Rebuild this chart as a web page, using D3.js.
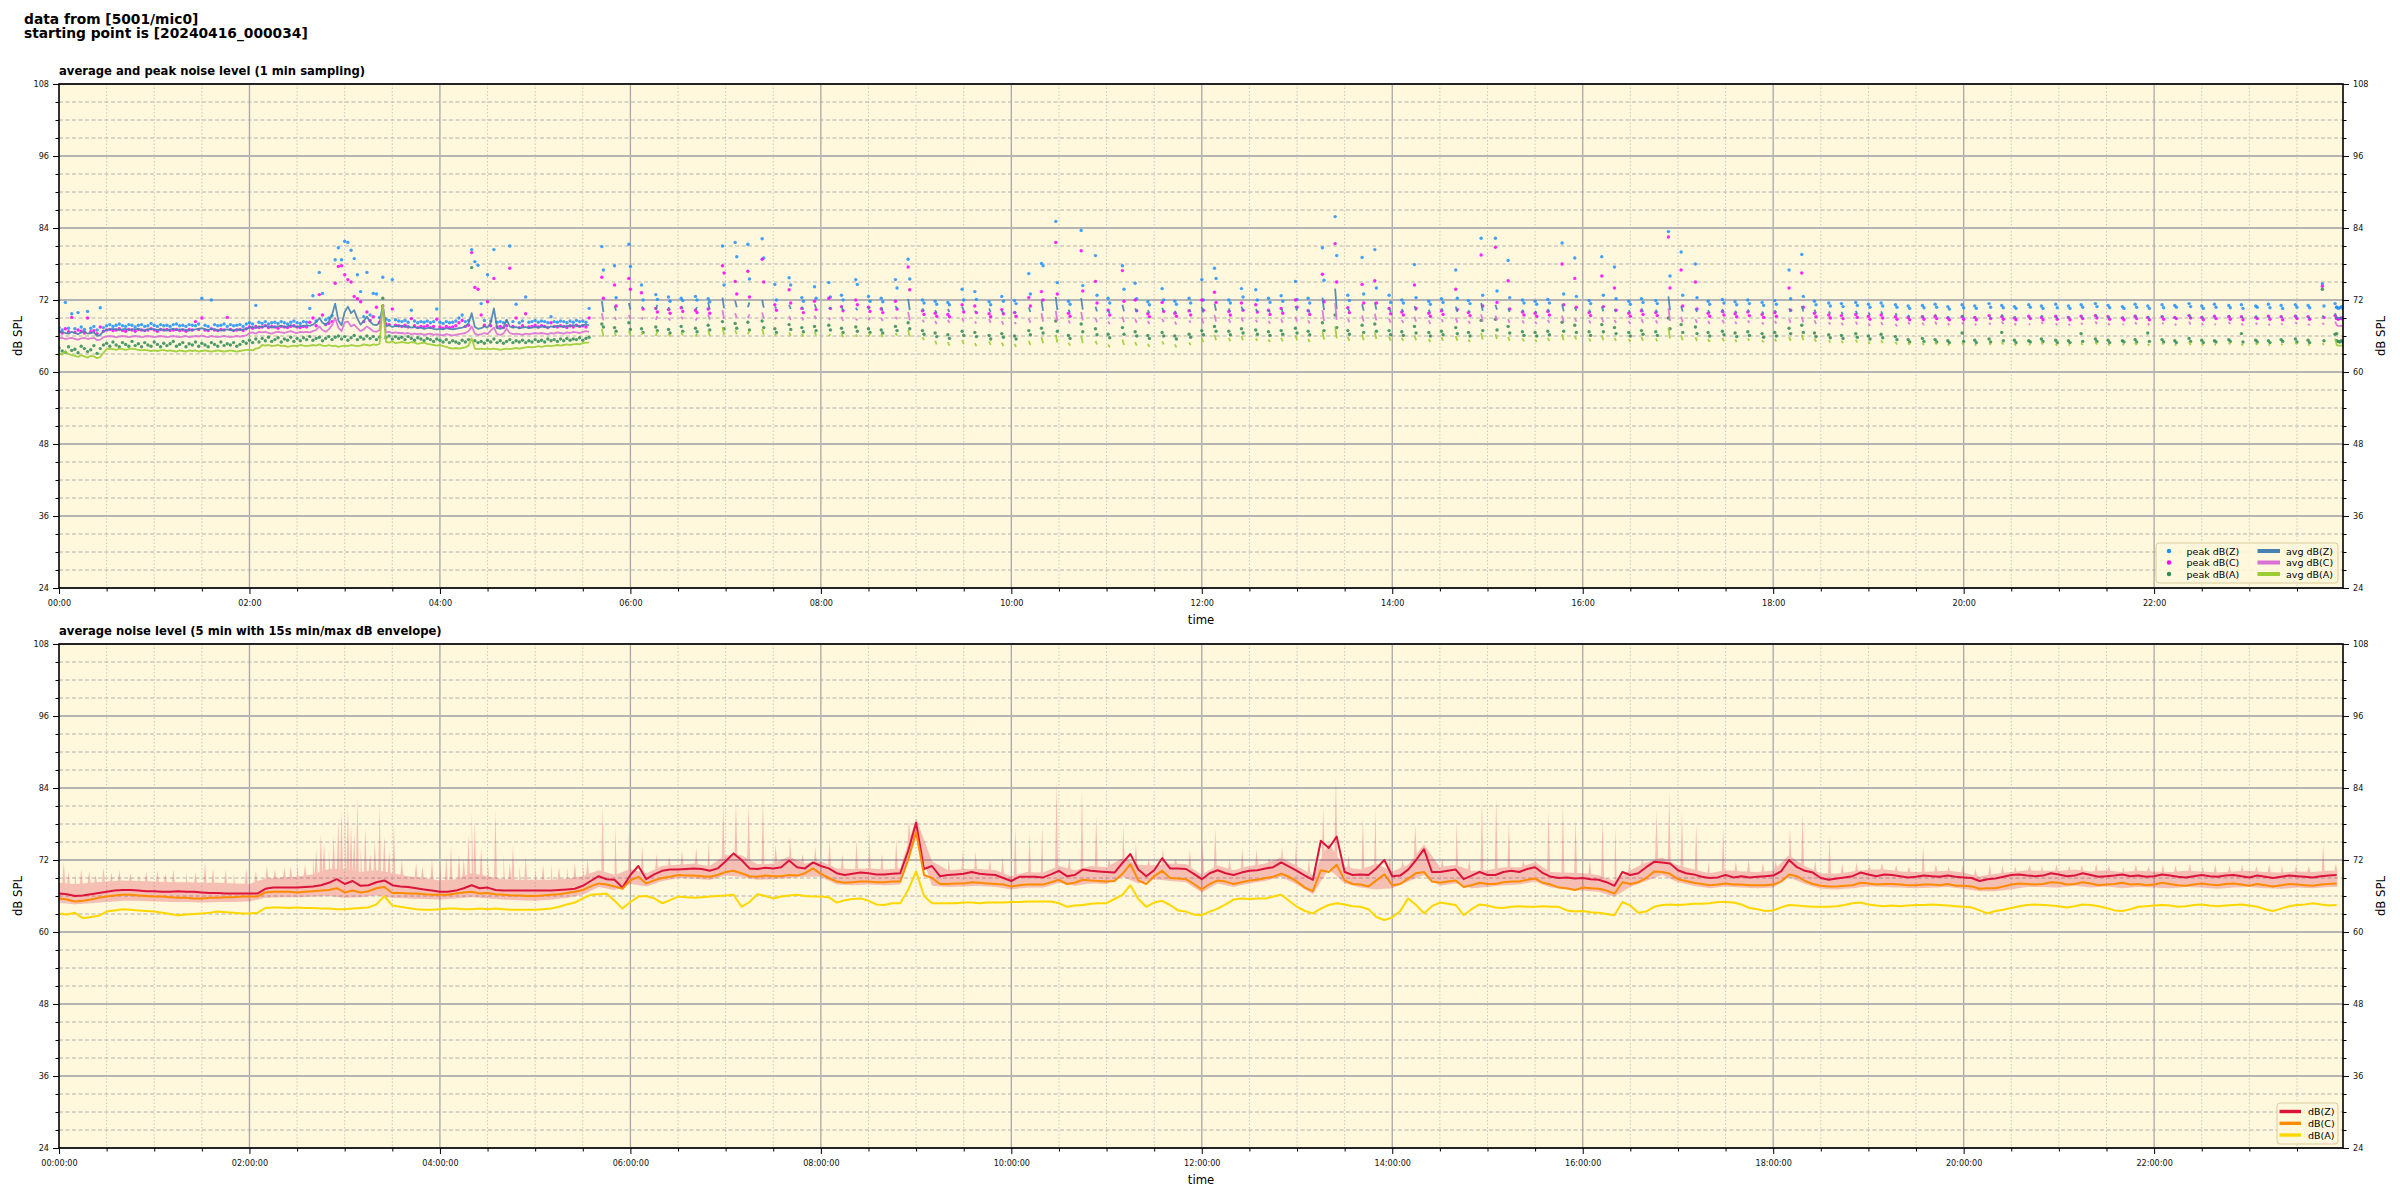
<!DOCTYPE html>
<html><head><meta charset="utf-8">
<script src="https://cdn.jsdelivr.net/npm/d3@7/dist/d3.min.js"></script>
<style>html,body{margin:0;padding:0;background:#fff;}</style>
</head><body>
<svg id="chart" width="2400" height="1200" xmlns="http://www.w3.org/2000/svg"></svg>
<script>
// ---------------- DATA ----------------
const titleLines = ["data from [5001/mic0]", "starting point is [20240416_000034]"];
const topTitle = "average and peak noise level (1 min sampling)";
const botTitle = "average noise level (5 min with 15s min/max dB envelope)";
const yTickValues = [24, 36, 48, 60, 72, 84, 96, 108];
const topLegendLabels = ["peak dB(Z)", "peak dB(C)", "peak dB(A)", "avg dB(Z)", "avg dB(C)", "avg dB(A)"];
const botLegendLabels = ["dB(Z)", "dB(C)", "dB(A)"];

// top chart, continuous part: one value every 2 minutes from 00:00 to 05:34
const seg0Z = [66.6,66.7,66.5,66.4,66.7,66.5,66.3,66.6,66.8,66.4,66.5,66.6,66.0,66.2,66.8,
67.0,67.1,67.2,67.1,67.0,67.1,67.2,67.0,67.1,67.1,67.2,67.0,66.9,67.1,67.2,67.1,67.0,67.1,67.0,66.9,67.1,67.2,67.0,67.1,67.1,67.0,66.9,67.0,67.1,67.2,67.3,67.1,67.0,67.2,67.1,67.0,66.9,67.0,67.1,67.0,66.9,67.1,67.0,67.1,67.2,
67.4,67.5,67.3,67.6,67.5,67.7,67.6,67.4,67.5,67.6,67.7,67.5,67.6,67.8,67.6,67.5,67.7,67.6,67.8,67.7,67.9,68.3,
69.0,68.2,67.9,68.4,69.5,71.4,68.6,67.8,70.0,70.9,69.8,70.3,68.9,67.9,68.5,69.2,68.4,67.9,67.8,68.2,71.2,67.6,67.8,67.5,67.7,67.6,
67.7,67.5,67.6,67.4,67.5,67.3,67.4,67.2,67.3,67.4,67.2,67.1,67.2,67.1,67.3,67.2,67.1,67.2,67.3,67.4,
67.6,68.1,69.8,67.5,67.2,67.3,67.6,67.4,68.2,70.6,67.3,67.2,67.4,68.7,67.6,67.4,67.5,67.3,67.4,67.5,
67.3,67.4,67.5,67.4,67.6,67.5,67.4,67.6,67.5,67.7,67.6,67.5,67.7,67.6,67.8,67.7,67.6,67.8,67.9,67.8];
const seg0C = [65.6,65.7,65.5,65.6,65.7,65.5,65.4,65.6,65.7,65.5,65.6,65.7,65.3,65.4,65.8,
65.9,66.0,65.9,65.8,65.9,66.0,65.9,65.8,65.9,66.0,65.9,65.8,65.9,66.0,65.9,65.8,65.9,66.0,65.9,65.8,65.9,66.0,65.9,65.8,65.9,66.0,65.8,65.9,66.0,65.9,66.1,65.9,65.8,66.0,65.9,65.8,65.9,66.0,65.9,65.8,65.9,66.0,65.9,66.0,66.1,
66.5,66.6,66.4,66.7,66.6,66.7,66.5,66.4,66.6,66.7,66.6,66.5,66.7,66.8,66.6,66.5,66.7,66.6,66.7,66.6,66.8,67.0,
67.6,67.0,66.7,67.1,67.8,69.0,67.4,66.8,68.3,68.4,67.6,67.9,67.3,66.8,67.1,67.6,67.2,66.8,66.7,67.0,71.0,66.6,66.7,66.5,66.6,66.5,
66.5,66.4,66.5,66.3,66.4,66.3,66.4,66.2,66.3,66.4,66.2,66.3,66.2,66.1,66.3,66.2,66.1,66.2,66.3,66.4,
66.5,66.8,67.6,66.4,66.2,66.3,66.5,66.3,66.9,67.4,66.3,66.2,66.4,67.2,66.5,66.3,66.4,66.3,66.2,66.4,
66.3,66.4,66.5,66.4,66.5,66.4,66.3,66.5,66.4,66.6,66.5,66.4,66.6,66.5,66.7,66.6,66.5,66.7,66.8,66.7];
const seg0A = [63.1,62.9,63.4,63.0,62.8,62.7,62.5,62.8,62.6,62.4,62.7,62.6,62.3,62.5,63.2,
63.8,63.9,63.8,63.7,63.9,63.8,63.7,63.8,63.9,63.8,63.7,63.6,63.7,63.6,63.5,63.6,63.5,63.6,63.7,63.5,63.6,63.5,63.4,63.6,63.5,63.4,63.6,63.5,63.6,63.4,63.5,63.6,63.5,63.4,63.5,63.6,63.5,63.4,63.5,63.6,63.5,63.4,63.5,63.6,63.7,
63.7,63.6,63.9,64.0,64.5,64.4,64.5,64.3,64.4,64.5,64.3,64.4,64.2,64.3,64.4,64.3,64.5,64.4,64.3,64.4,64.5,64.4,
64.6,64.4,64.3,64.5,64.3,64.4,64.2,64.3,64.4,64.3,64.5,64.4,64.3,64.4,64.6,64.5,64.4,64.6,64.5,64.7,71.2,65.0,64.9,65.1,64.8,64.9,
65.0,64.9,64.8,65.0,64.9,64.7,64.8,64.9,64.7,64.6,64.5,64.4,64.5,64.3,64.2,64.0,63.9,64.0,63.9,64.0,
64.1,64.4,65.6,63.9,63.8,63.9,63.8,63.9,63.8,63.9,63.8,63.7,63.8,63.9,63.8,63.9,64.0,63.9,64.0,64.1,
64.2,64.1,64.2,64.3,64.2,64.3,64.4,64.3,64.4,64.5,64.4,64.5,64.6,64.5,64.6,64.7,64.6,64.8,64.9,64.9];
const seg0PZ = [67.4,67.0,71.6,67.3,69.7,67.2,69.9,67.5,67.1,70.1,67.3,67.6,67.0,70.7,67.4,
67.7,67.9,67.6,67.8,68.0,67.7,67.6,67.9,67.8,67.5,67.8,67.9,67.6,67.7,68.1,67.8,67.6,67.9,67.7,67.8,67.6,67.9,68.0,67.7,67.8,67.6,67.9,67.8,67.7,68.0,72.3,67.8,67.6,72.0,67.9,67.7,67.8,68.0,67.6,67.9,67.7,67.8,67.9,67.6,68.0,
68.2,68.0,71.1,68.3,68.1,68.4,68.0,68.2,68.3,68.1,68.4,68.2,68.0,68.3,68.5,68.2,68.1,68.4,68.3,70.6,72.7,68.5,
76.6,73.1,68.7,69.0,69.4,78.7,80.7,78.7,81.8,81.6,80.3,78.9,76.2,73.4,69.2,76.6,69.5,73.1,73.0,69.1,75.8,68.8,68.6,75.4,68.7,68.5,
68.4,68.6,68.3,70.3,68.5,68.2,68.4,68.3,68.5,68.2,68.4,70.5,68.3,68.1,68.4,68.2,68.3,68.5,69.0,69.5,
68.4,68.6,80.4,78.4,77.8,71.4,68.6,76.2,68.5,80.4,68.3,68.4,68.2,68.5,81.0,68.4,71.3,68.2,68.5,72.5,
68.3,68.4,68.6,68.3,68.5,68.4,68.2,69.2,68.4,68.3,68.5,68.4,68.2,68.5,68.3,68.6,68.4,68.5,68.3,70.6];
const seg0PC = [66.8,66.5,67.2,66.7,69.1,66.6,67.0,66.8,66.5,69.0,66.7,66.9,66.4,67.5,66.8,
67.0,67.1,66.9,67.0,67.2,66.9,66.8,67.1,67.0,66.8,67.1,67.0,66.9,67.0,67.2,67.0,66.8,67.1,67.0,67.1,66.9,67.0,67.1,66.9,67.0,66.8,67.1,67.0,68.4,67.1,69.0,67.0,66.9,67.2,67.0,66.9,67.1,67.0,69.1,67.1,66.9,67.0,67.1,66.9,67.2,
67.5,67.3,67.6,67.4,67.5,67.7,67.4,67.6,67.5,67.3,67.6,67.5,67.4,67.6,67.7,67.5,67.4,67.6,67.5,68.3,69.0,67.7,
72.9,69.5,67.9,68.1,68.4,74.8,77.6,77.7,76.2,75.4,75.0,72.6,72.2,71.7,68.4,70.0,68.6,69.2,70.8,68.3,71.0,68.0,67.9,70.5,67.8,67.7,
67.6,67.8,67.5,68.9,67.7,67.4,67.6,67.5,67.7,67.4,67.6,68.8,67.5,67.3,67.6,67.4,67.5,67.7,68.2,68.6,
67.6,67.8,79.9,74.1,73.8,69.5,67.8,71.7,67.7,75.6,67.5,67.6,67.4,67.7,77.3,67.6,69.0,67.4,67.7,69.7,
67.5,67.6,67.8,67.5,67.7,67.6,67.4,68.2,67.6,67.5,67.7,67.6,67.4,67.7,67.5,67.8,67.6,67.7,67.5,69.0];
const seg0PA = [64.0,63.5,63.3,64.2,63.6,63.8,63.2,64.3,63.9,63.4,63.7,64.4,63.1,63.9,64.5,
64.8,64.3,65.0,64.5,64.2,64.9,64.6,64.3,65.1,64.4,64.7,64.2,64.9,64.5,64.3,65.0,64.6,64.2,64.8,64.4,64.7,65.1,64.3,64.6,64.9,64.2,64.7,64.5,65.0,64.3,64.8,64.5,64.2,64.9,64.6,64.3,65.0,64.4,64.7,64.5,64.9,64.3,64.6,65.1,64.8,
65.3,64.9,65.5,65.0,65.6,65.2,65.8,65.1,65.4,65.7,65.0,65.5,65.3,65.8,65.1,65.6,65.2,65.7,65.4,65.9,65.3,65.6,
65.8,65.2,65.6,65.9,65.4,65.8,66.0,65.5,65.9,65.3,65.7,66.1,65.4,65.8,65.5,66.0,65.6,65.9,65.4,65.8,72.3,65.7,66.0,65.5,65.9,65.6,
65.8,65.4,65.9,65.6,65.3,65.7,65.5,65.2,65.6,65.4,65.1,65.5,65.3,65.0,65.4,64.9,65.2,65.0,64.8,65.3,
65.0,65.4,77.4,65.2,64.9,65.1,64.8,65.3,65.0,65.5,64.9,65.2,64.8,65.1,65.4,64.9,65.2,65.0,65.3,64.9,
65.2,65.0,65.4,65.1,65.3,65.0,65.5,65.2,65.4,65.1,65.5,65.2,65.6,65.3,65.5,65.4,65.7,65.3,65.6,65.8];

// top chart, short recordings (2 samples each) from 05:42 on
const burstMinutes = [342,350,359,367,376,384,392,401,409,418,
426,434,443,451,460,468,476,485,493,502,
510,518,527,535,544,552,560,569,577,586,
594,602,611,619,628,636,644,653,661,670,
678,686,695,703,712,720,728,737,745,754,
762,770,779,787,796,804,812,821,829,838,
846,854,863,871,880,888,896,905,913,922,
930,938,947,955,964,972,980,989,997,1006,
1014,1022,1031,1039,1048,1056,1064,1073,1081,1090,
1098,1106,1115,1123,1132,1140,1148,1157,1165,1174,
1182,1190,1199,1207,1216,1224,1232,1241,1249,1258,
1266,1274,1283,1291,1300,1308,1316,1325,1333,1342,
1350,1358,1367,1375,1384,1392,1400,1409,1417,1426,
1434];
const burstZ = [[71.8,70.0],[71.0,70.2],[71.5,70.4],[70.6,70.9],[70.4,71.2],[70.8,70.3],[71.0,70.5],[70.3,70.8],[71.6,70.4],[72.4,70.6],
[71.9,70.8],[70.8,71.6],[72.0,70.7],[70.6,70.9],[71.2,70.5],[70.9,70.4],[71.3,70.6],[70.5,70.8],[71.0,70.2],[70.7,70.3],
[70.4,70.9],[70.8,70.2],[71.0,70.6],[72.2,70.3],[70.6,70.1],[70.3,69.8],[70.5,70.0],[70.9,70.2],[70.2,69.9],[70.6,70.0],
[70.3,69.7],[70.1,69.8],[70.8,70.0],[71.9,70.2],[72.5,70.3],[70.4,69.9],[72.3,70.4],[70.9,70.1],[70.2,69.8],[71.2,70.1],
[70.6,70.0],[70.3,69.8],[70.7,70.1],[70.2,69.7],[70.4,70.0],[70.8,69.9],[71.4,70.2],[70.6,70.0],[70.9,70.2],[70.5,70.1],
[70.3,69.9],[70.6,70.0],[71.0,70.2],[70.4,69.9],[72.4,70.3],[73.9,70.5],[70.6,70.1],[71.3,70.2],[71.6,70.4],[70.7,70.0],
[70.5,70.0],[71.0,70.2],[70.4,69.8],[70.6,70.1],[70.9,70.0],[70.3,69.9],[71.5,70.2],[71.2,70.4],[70.6,70.0],[70.4,69.9],
[70.2,69.8],[70.5,70.0],[71.3,70.1],[70.8,70.2],[70.4,69.9],[70.9,70.1],[70.5,70.0],[70.3,69.8],[70.6,70.0],[70.4,69.9],
[72.6,70.3],[71.0,70.1],[70.6,70.0],[70.3,69.8],[70.5,69.9],[70.2,69.8],[70.4,70.0],[70.1,69.7],[70.3,69.9],[70.6,70.0],
[71.0,70.1],[70.4,69.8],[70.1,69.7],[70.0,69.6],[70.2,69.7],[69.9,69.5],[70.1,69.6],[69.8,69.4],[69.5,69.1],[69.4,69.0],
[69.6,69.1],[69.3,68.9],[69.5,69.0],[69.2,68.9],[69.4,69.0],[69.6,69.1],[69.3,68.9],[69.2,69.0],[69.5,69.1],[69.3,68.9],
[69.2,68.9],[69.4,69.0],[69.6,69.1],[69.3,68.9],[69.2,69.0],[69.5,69.0],[69.3,68.9],[69.4,69.1],[69.2,68.9],[69.6,69.0],
[69.3,68.9],[69.2,69.0],[69.5,69.1],[69.3,68.9],[69.4,69.0],[69.2,68.9],[69.3,69.0],[69.5,69.1],[69.2,68.9],[69.4,69.0],[69.8,69.0]];
const burstC = [[69.8,68.6],[69.2,68.7],[69.5,68.8],[68.8,69.1],[68.7,69.3],[69.0,68.6],[69.2,68.8],[68.6,69.0],[69.6,68.7],[70.3,68.9],
[69.8,69.0],[69.0,69.6],[69.9,68.9],[68.8,69.1],[69.3,68.7],[69.1,68.6],[69.4,68.8],[68.7,69.0],[69.2,68.5],[68.9,68.6],
[68.6,69.1],[69.0,68.5],[69.2,68.8],[70.0,68.6],[68.7,68.3],[68.5,68.0],[68.7,68.2],[69.0,68.4],[68.4,68.1],[68.8,68.2],
[68.5,67.9],[68.3,68.0],[68.9,68.2],[69.8,68.4],[70.2,68.5],[68.6,68.1],[70.0,68.6],[69.0,68.3],[68.4,68.0],[69.2,68.3],
[68.8,68.2],[68.5,68.0],[68.9,68.3],[68.4,67.9],[68.6,68.2],[69.0,68.1],[69.5,68.4],[68.8,68.2],[69.1,68.4],[68.7,68.3],
[68.5,68.1],[68.8,68.2],[69.2,68.4],[68.6,68.1],[70.3,68.5],[71.5,68.7],[68.8,68.3],[69.4,68.4],[69.7,68.6],[68.9,68.2],
[68.7,68.2],[69.2,68.4],[68.6,68.0],[68.8,68.3],[69.1,68.2],[68.5,68.1],[69.6,68.4],[69.4,68.6],[68.8,68.2],[68.6,68.1],
[68.4,68.0],[68.7,68.2],[69.4,68.3],[69.0,68.4],[68.6,68.1],[69.1,68.3],[68.7,68.2],[68.5,68.0],[68.8,68.2],[68.6,68.1],
[70.6,68.5],[69.2,68.3],[68.8,68.2],[68.5,68.0],[68.7,68.1],[68.4,68.0],[68.6,68.2],[68.3,67.9],[68.5,68.1],[68.8,68.2],
[69.2,68.3],[68.6,68.0],[68.3,67.9],[68.2,67.8],[68.4,67.9],[68.1,67.7],[68.3,67.8],[68.0,67.6],[68.3,67.9],[68.2,67.8],
[68.4,67.9],[68.1,67.8],[68.3,67.9],[68.0,67.8],[68.2,67.9],[68.4,68.0],[68.1,67.8],[68.0,67.9],[68.3,68.0],[68.1,67.8],
[68.0,67.8],[68.2,67.9],[68.4,68.0],[68.1,67.8],[68.0,67.9],[68.3,67.9],[68.1,67.8],[68.2,68.0],[68.0,67.8],[68.4,67.9],
[68.1,67.8],[68.0,67.9],[68.3,68.0],[68.1,67.8],[68.2,67.9],[68.0,67.8],[68.1,67.9],[68.3,68.0],[68.0,67.8],[68.2,67.9],[68.4,67.9]];
const burstA = [[67.2,65.9],[66.6,66.0],[66.9,66.1],[66.2,66.6],[66.0,66.8],[66.4,65.9],[66.6,66.1],[65.9,66.4],[67.0,66.0],[67.5,66.2],
[67.0,66.3],[66.3,66.9],[67.2,66.2],[66.1,66.4],[66.6,66.0],[66.4,65.9],[66.7,66.1],[66.0,66.3],[66.5,65.8],[66.2,65.9],
[65.9,66.4],[66.3,65.8],[66.5,66.1],[67.0,65.9],[65.8,65.3],[65.2,64.6],[65.0,64.4],[65.3,64.7],[64.8,64.3],[65.1,64.5],
[64.9,64.3],[64.7,64.2],[65.2,64.5],[65.8,64.8],[66.2,64.9],[64.9,64.4],[66.0,64.8],[65.2,64.6],[64.6,64.1],[65.4,64.5],
[65.0,64.4],[64.7,64.2],[65.1,64.6],[64.6,64.1],[64.9,64.5],[65.6,65.0],[66.2,65.3],[65.7,65.1],[66.0,65.3],[65.6,65.2],
[65.4,65.0],[65.7,65.1],[66.1,65.3],[65.5,65.0],[66.8,65.4],[67.6,65.6],[65.8,65.2],[66.3,65.3],[66.6,65.5],[65.9,65.2],
[65.7,65.2],[66.1,65.3],[65.5,65.0],[65.8,65.2],[66.0,65.2],[65.4,65.0],[66.5,65.4],[66.3,65.5],[65.8,65.2],[65.6,65.1],
[65.4,65.0],[65.7,65.2],[66.3,65.3],[66.0,65.4],[65.6,65.1],[66.1,65.3],[65.7,65.2],[65.5,65.0],[65.8,65.2],[65.6,65.1],
[67.4,65.6],[66.1,65.3],[65.8,65.2],[65.5,65.0],[65.7,65.1],[65.4,65.0],[65.6,65.2],[65.3,64.9],[65.5,65.1],[65.8,65.2],
[66.2,65.3],[65.6,65.0],[65.3,64.9],[65.2,64.8],[65.4,64.9],[65.1,64.7],[65.3,64.8],[65.0,64.6],[64.9,64.5],[64.8,64.5],
[65.0,64.6],[64.7,64.4],[64.9,64.5],[64.6,64.4],[64.8,64.5],[65.0,64.6],[64.7,64.4],[64.6,64.5],[64.9,64.6],[64.7,64.4],
[64.6,64.4],[64.8,64.5],[65.0,64.6],[64.7,64.4],[64.6,64.5],[64.9,64.5],[64.7,64.4],[64.8,64.6],[64.6,64.4],[65.0,64.5],
[64.7,64.4],[64.6,64.5],[64.9,64.6],[64.7,64.4],[64.8,64.5],[64.6,64.4],[64.7,64.5],[64.9,64.6],[64.6,64.4],[64.8,64.5],[65.6,64.6]];
const burstPZ = [[80.9,77.0],[77.7,72.4],[81.3,77.6],[74.5,72.0],[72.9,72.1],[72.5,71.8],[72.3,71.9],[72.6,72.0],[72.2,71.7],[81.0,74.5],
[81.6,79.2],[81.3,75.5],[82.2,79.0],[74.6,72.0],[75.7,74.5],[72.4,71.8],[74.2,72.3],[74.9,72.5],[72.8,72.0],[75.4,74.6],
[72.6,71.8],[72.3,71.7],[75.4,74.0],[78.8,75.5],[72.0,71.5],[71.8,71.3],[71.6,71.2],[73.8,72.0],[73.4,72.1],[71.7,71.2],
[72.6,71.8],[71.9,71.4],[76.4,73.0],[78.1,77.7],[85.1,74.9],[71.8,71.3],[83.6,74.4],[79.4,72.8],[72.3,71.5],[77.7,73.8],
[74.8,72.2],[71.7,71.2],[73.9,72.0],[71.8,71.3],[72.3,71.5],[75.4,72.0],[77.3,75.6],[72.0,71.5],[73.9,72.5],[73.7,72.0],
[72.3,71.6],[72.7,71.8],[75.1,72.1],[72.3,71.5],[80.7,75.3],[85.9,79.4],[72.8,71.9],[79.1,73.0],[80.4,74.0],[72.8,71.6],
[72.0,71.5],[77.9,72.4],[71.8,71.3],[72.2,71.6],[77.0,72.3],[71.9,71.4],[82.3,72.8],[82.3,73.5],[78.6,72.4],[72.0,71.5],
[71.8,71.3],[72.1,71.5],[81.5,73.0],[79.0,72.6],[71.9,71.4],[79.2,72.8],[77.5,72.2],[71.8,71.3],[72.2,71.6],[71.9,71.4],
[83.4,76.0],[80.0,72.8],[78.0,72.4],[71.8,71.3],[72.1,71.5],[71.7,71.2],[72.0,71.4],[71.6,71.1],[71.9,71.3],[77.0,72.2],
[79.6,72.6],[71.8,71.2],[71.5,71.0],[71.4,70.9],[71.6,71.1],[71.3,70.8],[71.5,71.0],[71.2,70.8],[71.0,70.6],[71.1,70.7],
[71.3,70.8],[70.9,70.5],[71.2,70.7],[71.0,70.6],[71.4,70.8],[71.1,70.7],[70.9,70.6],[71.2,70.8],[71.0,70.6],[71.3,70.7],
[71.0,70.6],[71.2,70.8],[71.4,70.9],[71.1,70.7],[70.9,70.6],[71.3,70.8],[71.0,70.6],[71.2,70.7],[71.1,70.8],[71.4,70.9],
[71.0,70.6],[71.3,70.8],[71.1,70.7],[71.2,70.6],[71.0,70.8],[71.3,70.7],[71.1,70.6],[71.2,70.8],[71.1,70.7],[74.7,71.0],[71.4,70.8]];
const burstPC = [[75.8,72.3],[74.5,71.0],[75.6,73.8],[73.2,70.5],[70.6,70.0],[70.4,69.8],[70.7,70.1],[70.3,69.9],[70.5,69.8],[77.7,76.5],
[75.1,73.0],[76.8,72.5],[78.8,75.0],[71.2,70.3],[73.7,71.5],[70.6,69.9],[71.8,70.4],[72.3,70.6],[70.9,70.2],[72.0,71.2],
[70.8,70.1],[70.5,69.9],[71.8,70.5],[77.5,73.7],[70.2,69.6],[69.8,69.3],[69.6,69.2],[71.2,70.0],[71.0,69.9],[69.7,69.2],
[70.4,69.7],[69.9,69.3],[72.4,71.0],[73.4,72.0],[81.6,73.0],[69.8,69.3],[80.2,73.5],[75.1,71.5],[70.3,69.5],[76.9,71.8],
[72.0,70.2],[69.7,69.2],[71.6,70.1],[69.8,69.3],[70.2,69.5],[72.0,70.3],[73.3,71.6],[70.1,69.5],[71.5,70.3],[71.2,70.0],
[70.3,69.6],[70.6,69.8],[72.0,70.8],[70.2,69.6],[76.3,71.7],[81.4,75.0],[70.7,69.9],[74.6,71.5],[75.2,71.5],[70.6,69.7],
[70.0,69.5],[74.5,70.6],[69.8,69.3],[70.2,69.6],[73.8,70.4],[69.9,69.4],[79.5,71.0],[80.8,71.6],[75.2,70.5],[70.0,69.5],
[69.8,69.3],[70.1,69.5],[78.0,71.2],[75.6,70.8],[69.9,69.4],[76.0,70.9],[74.0,70.3],[69.8,69.3],[70.2,69.6],[69.9,69.4],
[82.5,74.0],[77.0,71.0],[75.0,70.5],[69.8,69.3],[70.1,69.5],[69.7,69.2],[70.0,69.4],[69.6,69.1],[69.9,69.3],[74.0,70.3],
[76.5,70.8],[69.8,69.2],[69.5,69.0],[69.4,68.9],[69.6,69.1],[69.3,68.8],[69.5,69.0],[69.2,68.8],[69.1,68.7],[69.2,68.8],
[69.3,68.9],[69.0,68.7],[69.2,68.8],[69.1,68.7],[69.4,68.9],[69.2,68.8],[69.0,68.7],[69.3,68.9],[69.1,68.7],[69.3,68.8],
[69.1,68.7],[69.3,68.9],[69.4,69.0],[69.2,68.8],[69.0,68.7],[69.3,68.9],[69.1,68.7],[69.2,68.8],[69.1,68.9],[69.4,69.0],
[69.1,68.7],[69.3,68.9],[69.2,68.8],[69.2,68.7],[69.1,68.9],[69.3,68.8],[69.2,68.7],[69.3,68.9],[69.2,68.8],[74.3,69.1],[69.4,68.9]];
const burstPA = [[68.0,67.5],[67.4,66.8],[68.2,67.1],[67.2,66.6],[67.5,66.9],[67.1,66.5],[67.6,66.8],[67.3,66.7],[67.8,67.0],[68.4,67.2],
[68.1,67.3],[68.3,67.0],[68.5,67.4],[67.2,66.6],[67.9,67.1],[67.4,66.7],[67.6,66.9],[67.8,67.0],[67.3,66.6],[67.5,66.8],
[67.2,66.6],[67.0,66.5],[67.6,66.9],[68.2,67.2],[66.9,66.3],[66.5,65.9],[66.2,65.6],[66.8,66.1],[66.6,65.9],[66.1,65.5],
[66.4,65.8],[66.0,65.5],[66.9,66.2],[67.3,66.5],[68.5,66.8],[66.1,65.6],[68.0,66.7],[67.2,66.2],[66.3,65.7],[67.4,66.3],
[66.7,66.0],[66.1,65.6],[66.6,66.0],[66.0,65.5],[66.3,65.8],[66.9,66.2],[67.6,66.8],[66.8,66.2],[67.2,66.5],[67.0,66.3],
[66.7,66.1],[66.9,66.3],[67.3,66.5],[66.8,66.2],[68.2,66.9],[69.5,67.4],[66.9,66.3],[67.8,66.6],[68.0,66.8],[66.9,66.2],
[66.7,66.1],[67.6,66.5],[66.6,66.0],[66.8,66.2],[67.4,66.4],[66.6,66.0],[68.6,66.9],[68.8,67.0],[67.6,66.5],[66.7,66.1],
[66.6,66.0],[66.8,66.2],[68.3,66.8],[67.8,66.6],[66.7,66.1],[67.9,66.7],[67.4,66.4],[66.6,66.0],[66.9,66.3],[66.7,66.1],
[69.0,67.2],[67.9,66.6],[67.5,66.4],[66.6,66.0],[66.8,66.2],[66.5,65.9],[66.7,66.1],[66.4,65.8],[66.6,66.0],[67.3,66.4],
[67.8,66.6],[66.5,65.9],[66.2,65.7],[66.1,65.6],[66.4,65.8],[66.0,65.5],[66.3,65.7],[65.9,65.4],[65.4,65.0],[65.6,65.1],
[65.4,65.0],[65.2,64.9],[66.5,65.1],[65.3,64.9],[65.5,65.0],[66.6,65.2],[65.3,64.9],[65.2,65.0],[65.5,65.1],[65.3,64.9],
[65.2,64.9],[66.4,65.1],[65.5,65.1],[65.3,64.9],[65.2,65.0],[65.4,65.0],[66.5,65.1],[65.4,65.0],[65.2,64.9],[65.6,65.1],
[65.3,64.9],[65.2,65.0],[65.4,65.1],[66.4,65.0],[65.3,65.0],[65.2,64.9],[65.4,65.1],[65.5,65.0],[65.3,64.9],[73.8,65.2],[66.3,65.2]];
// last few minutes of the day (continuous)
const tailMinutes = [1435,1436,1437,1438,1439];
const tailZ = [69.1,69.0,69.0,68.9,69.0];
const tailC = [67.8,67.7,67.7,67.7,67.7];
const tailA = [64.5,64.4,64.4,64.4,64.4];
const tailPZ = [70.8,70.6,70.7,70.9,70.6];
const tailPC = [69.0,68.8,68.9,69.0,68.8];
const tailPA = [66.4,65.1,65.0,65.2,65.0];

// bottom chart: 5-minute averages, one row per hour
const botZ = [
66.4,66.3,66.0,66.1,66.3,66.5,66.7,66.9,67.0,67.0,66.9,66.8,
66.8,66.7,66.7,66.8,66.7,66.7,66.6,66.5,66.5,66.4,66.4,66.4,
66.4,66.4,67.2,67.4,67.4,67.4,67.4,67.5,67.6,67.8,68.2,68.8,
68.0,68.5,67.7,67.8,68.3,68.6,67.8,67.6,67.5,67.3,67.1,66.9,
66.7,66.7,66.9,67.3,67.8,67.3,67.4,67.0,66.9,66.9,66.9,66.9,
66.9,66.9,66.9,67.0,67.1,67.2,67.7,68.5,69.3,68.8,68.7,67.4,
69.5,71.0,68.8,69.6,70.2,70.4,70.4,70.5,70.6,70.5,70.2,70.6,
71.8,73.1,72.0,70.6,70.5,70.7,70.6,70.8,71.9,70.8,70.6,71.6,
71.0,70.6,69.8,69.5,69.7,69.9,69.8,69.6,69.6,69.7,69.8,73.5,
78.2,70.5,71.0,69.3,69.5,69.6,69.7,70.0,69.7,69.6,69.5,69.0,
68.5,69.2,69.2,69.2,69.1,69.6,70.2,69.3,69.5,70.4,70.2,70.1,
70.0,69.9,71.5,73.0,70.4,69.3,70.3,72.3,70.6,70.6,70.5,69.7,
68.8,69.8,70.3,69.8,69.5,69.9,70.2,70.3,70.6,70.8,71.6,70.9,
70.2,69.4,68.7,75.2,74.0,75.9,70.0,69.5,69.6,69.5,70.6,72.0,
69.3,69.4,70.4,72.0,73.8,70.0,70.0,70.2,70.4,68.8,69.4,70.0,
69.5,69.5,70.0,70.2,70.0,70.5,70.8,69.8,69.2,69.0,69.1,68.9,
69.0,68.8,68.7,68.3,67.7,70.0,69.5,69.8,70.8,71.7,71.6,71.4,
70.3,69.8,69.6,69.2,69.0,69.1,69.5,69.1,69.3,69.1,69.2,69.3,
69.4,70.1,72.0,70.8,70.2,69.9,69.0,68.7,68.9,69.1,69.3,69.9,
69.6,69.3,69.6,69.5,69.3,69.1,69.2,69.4,69.3,69.2,69.4,69.2,
69.1,69.0,68.5,68.8,68.9,69.2,69.5,69.6,69.4,69.3,69.4,69.8,
69.6,69.3,69.4,69.8,69.5,69.2,69.3,69.4,69.6,69.3,69.4,69.2,
69.3,69.6,69.4,69.2,69.1,69.3,69.5,69.3,69.2,69.4,69.5,69.3,
69.1,69.4,69.2,69.0,69.2,69.4,69.3,69.2,69.1,69.3,69.4,69.5];
const botC = [
65.6,65.4,65.1,65.2,65.4,65.7,65.9,66.1,66.2,66.2,66.1,66.0,
65.9,65.9,65.8,65.7,65.7,65.6,65.6,65.7,65.7,65.8,65.8,65.9,
65.9,65.9,66.6,66.7,66.7,66.7,66.6,66.7,66.8,66.9,67.0,67.3,
66.6,66.9,66.6,66.8,67.3,67.5,66.5,66.5,66.4,66.4,66.3,66.2,
66.2,66.2,66.4,66.6,66.7,66.4,66.5,66.3,66.2,66.1,66.1,66.0,
66.0,66.1,66.2,66.3,66.5,66.7,67.0,67.6,68.1,67.9,67.6,67.2,
68.6,69.2,68.1,68.6,69.0,69.2,69.5,69.4,69.4,69.3,69.2,69.5,
70.0,70.2,69.8,69.3,69.2,69.4,69.3,69.3,69.5,69.4,69.8,70.6,
69.7,69.0,68.4,68.2,68.3,68.4,68.4,68.3,68.3,68.4,68.4,72.0,
76.7,69.5,69.0,68.0,68.0,68.1,68.1,68.3,68.2,68.1,68.0,67.9,
67.6,67.8,67.9,67.9,67.9,68.3,68.7,68.0,68.2,68.7,68.6,68.5,
68.4,68.5,69.7,71.3,68.6,68.0,69.3,70.2,69.0,68.9,68.8,68.0,
67.1,68.0,68.6,68.4,68.0,68.3,68.6,68.7,69.0,69.2,69.7,69.2,
68.4,67.4,66.8,70.3,70.0,71.2,68.6,68.0,67.9,67.6,68.6,69.6,
67.8,68.0,68.9,69.8,70.0,68.4,68.2,68.4,68.6,67.5,67.8,68.2,
68.0,68.0,68.3,68.4,68.4,68.7,68.9,68.2,67.9,67.4,67.3,67.0,
67.4,67.3,67.2,66.9,66.4,68.3,68.0,68.3,69.0,70.1,70.0,69.7,
68.8,68.5,68.2,68.0,67.8,67.9,68.1,67.9,67.9,67.8,67.8,67.8,
67.9,68.4,69.6,69.3,68.5,68.0,67.7,67.6,67.6,67.7,67.8,68.2,
68.1,67.9,68.0,68.0,67.9,67.8,67.8,67.9,67.9,67.8,68.0,67.7,
67.7,67.6,67.2,67.3,67.3,67.6,67.9,68.1,68.0,67.9,68.0,68.3,
68.2,67.9,68.0,68.3,68.1,67.8,67.9,68.0,68.2,67.9,68.0,67.8,
67.9,68.2,68.0,67.8,67.7,67.9,68.1,67.9,67.8,68.0,68.1,67.9,
67.7,68.0,67.8,67.6,67.8,68.0,67.9,67.8,67.7,67.9,68.0,68.1];
const botA = [
63.1,62.9,63.2,62.3,62.5,62.7,63.4,63.6,63.8,63.7,63.6,63.5,
63.4,63.2,63.0,62.8,62.9,63.0,63.1,63.2,63.4,63.3,63.2,63.1,
63.1,63.2,64.0,64.1,64.1,64.0,64.1,64.0,64.0,63.9,63.9,63.8,
63.8,63.9,64.0,64.1,64.6,66.0,64.4,64.2,64.0,63.8,63.7,63.7,
63.8,63.9,63.9,63.8,63.8,63.9,63.8,63.9,63.8,63.7,63.7,63.7,
63.7,63.8,63.9,64.2,64.6,64.9,65.6,66.2,66.3,66.4,65.2,63.9,
65.0,65.9,66.0,65.6,64.8,65.3,65.9,65.8,65.7,65.8,65.9,66.0,
66.1,66.2,64.2,65.0,66.3,66.0,65.6,65.9,66.1,66.2,66.0,65.9,
65.9,65.8,64.9,65.3,65.5,65.6,65.2,64.6,64.5,64.8,64.8,67.0,
70.1,66.0,64.8,64.8,64.8,64.8,64.9,64.9,64.8,64.9,64.9,64.9,
65.0,65.0,65.1,65.1,65.1,65.1,64.8,64.2,64.4,64.5,64.7,64.8,
64.8,65.5,66.2,67.8,65.5,64.2,64.9,65.2,64.5,63.6,63.4,62.9,
62.8,63.4,63.9,64.6,65.4,65.6,65.5,65.6,65.6,65.9,66.2,65.2,
64.2,63.5,63.1,63.9,64.5,64.8,64.6,64.3,64.2,63.8,62.5,62.0,
62.4,63.5,65.6,64.5,63.1,64.3,64.9,64.7,64.5,62.8,63.8,64.6,
64.4,64.1,64.0,64.2,64.3,64.2,64.2,64.3,64.2,64.2,63.6,63.4,
63.5,63.3,63.2,63.0,62.8,65.0,64.4,63.2,63.4,64.2,64.5,64.6,
64.5,64.6,64.7,64.7,64.8,65.0,65.0,64.9,64.6,64.0,63.8,63.5,
63.6,64.1,64.5,64.4,64.3,64.2,64.2,64.2,64.3,64.5,64.8,64.9,
64.6,64.4,64.3,64.4,64.3,64.4,64.5,64.5,64.6,64.5,64.4,64.3,
64.2,64.1,63.6,63.1,63.5,63.7,64.0,64.3,64.5,64.6,64.5,64.4,
64.3,64.1,64.3,64.6,64.5,64.3,64.0,63.6,63.5,63.8,64.2,64.3,
64.4,64.5,64.4,64.2,64.3,64.5,64.6,64.4,64.3,64.4,64.5,64.6,
64.4,64.2,63.8,63.5,63.9,64.3,64.5,64.6,64.8,64.6,64.4,64.5];

// bottom chart: 15s min/max envelope, baseline band every 10 minutes
const envHi = [68.2,68.0,68.2,68.4,68.6,68.5,68.4,68.3,68.3,68.2,68.2,68.1,68.0,
68.9,69.1,69.2,69.6,70.5,70.5,70.0,70.3,69.8,69.3,69.0,68.6,68.8,69.8,69.3,68.8,68.7,68.7,68.7,68.9,69.3,
70.3,69.5,70.5,69.8,71.0,71.2,71.4,71.0,72.8,72.8,71.3,71.4,72.6,71.4,71.8,70.6,70.5,70.6,70.4,70.6,79.0,
71.8,70.3,70.5,70.5,70.3,69.3,70.0,69.9,71.0,70.3,71.0,70.8,72.3,71.2,71.1,71.4,71.3,69.6,71.1,70.3,71.0,
71.4,72.4,71.0,69.5,74.8,70.8,70.4,71.4,70.1,71.2,74.6,70.8,71.2,70.2,70.3,70.8,70.8,71.6,70.0,69.9,69.8,
69.5,68.5,70.3,71.6,72.4,71.1,70.4,69.8,70.3,70.1,70.0,70.2,72.8,71.0,69.8,69.7,70.1,70.4,70.4,70.1,70.0,
70.1,70.2,69.9,69.3,69.7,70.0,70.3,70.2,70.2,70.4,70.1,70.3,70.0,70.2,70.1,70.0,70.2,70.1,69.9,70.1,70.2,70.0,69.9,70.1,70.0,70.2];
const envLo = [64.9,64.6,64.8,65.0,65.2,65.2,65.1,65.0,65.0,64.9,65.0,65.0,65.1,
65.7,65.8,65.8,65.9,66.0,65.7,65.8,66.1,65.7,65.6,65.5,65.4,65.6,65.8,65.6,65.4,65.3,65.2,65.4,65.7,66.2,
67.5,67.0,68.0,67.6,68.5,69.0,68.9,68.7,69.4,69.2,68.7,68.8,69.0,69.2,69.2,67.9,67.8,67.9,67.8,67.9,75.8,
67.7,67.5,67.6,67.7,67.5,67.1,67.4,67.4,68.2,67.7,68.1,68.0,69.2,68.1,68.8,68.5,68.3,66.6,68.1,67.5,68.1,
68.5,69.2,67.9,66.3,70.5,68.1,67.4,67.1,67.3,68.4,69.5,67.7,68.1,67.3,67.5,67.8,67.9,68.4,67.4,67.1,66.9,
66.7,65.9,67.5,68.5,69.5,68.3,67.7,67.3,67.6,67.4,67.3,67.4,69.1,68.0,67.2,67.1,67.3,67.6,67.5,67.4,67.3,
67.4,67.5,67.2,66.8,66.8,67.1,67.5,67.5,67.4,67.7,67.4,67.6,67.3,67.5,67.4,67.3,67.5,67.4,67.2,67.4,67.5,67.3,67.2,67.4,67.3,67.5];
// envelope maxima: spikes during the first hours [minute, dB]
const envSpikesEarly = [[3,71.7],[6,70.0],[10,69.8],[14,70.5],[19,70.2],[23,69.5],[28,70.8],[33,69.9],[38,70.3],[45,69.8],[50,69.6],[55,70.1],[62,70.2],[67,69.8],[72,70.4],[80,70.0],[86,69.9],[92,71.7],[97,70.6],[105,70.4],[110,69.8],[118,70.6],[124,70.2],[131,71.0],[136,70.5],[142,70.8],[146,70.9],[150,71.5],[155,71.2],[160,72.3],[162,73.8],[165,76.5],[167,74.8],[170,73.5],[173,75.9],[176,79.0],[178,80.3],[180,81.7],[182,80.9],[184,78.0],[186,76.4],[188,82.7],[190,74.2],[193,77.5],[196,73.0],[199,75.0],[202,80.7],[205,76.0],[208,73.5],[211,78.1],[216,72.0],[225,71.5],[229,71.0],[235,72.2],[240,71.8],[244,72.6],[247,74.5],[252,73.0],[255,72.2],[258,76.3],[260,80.3],[262,78.8],[266,74.0],[270,72.5],[275,80.3],[280,73.0],[284,71.6],[286,74.5],[290,71.0],[294,72.5],[300,70.6],[305,71.2],[310,71.4],[315,70.8],[320,70.9],[325,71.5],[330,71.3],[333,72.0]];
// envelope maxima at each short recording (same minutes as burstMinutes)
const envSpikeBurst = [80.9,77.7,81.3,74.5,73.0,72.5,73.5,74.0,75.5,81.4,
81.6,81.3,82.0,74.6,75.9,73.0,74.2,75.3,73.0,75.4,
77.0,73.0,75.4,78.7,72.5,71.4,72.0,73.8,73.4,72.0,
72.6,77.6,76.4,78.1,85.3,72.5,83.6,79.4,72.3,77.7,
74.8,72.0,73.9,72.2,73.7,75.4,77.3,72.0,73.9,73.7,
72.3,74.2,75.1,72.3,80.7,85.9,72.8,79.1,80.4,72.8,
72.0,77.9,72.0,72.2,78.7,72.0,82.3,82.3,78.6,72.0,
71.8,80.3,81.5,79.0,71.9,79.2,77.5,71.8,72.2,80.3,
83.4,80.0,78.0,71.8,77.6,71.7,72.0,71.6,71.9,77.6,
79.6,71.8,75.9,71.4,71.6,71.3,71.5,71.2,71.0,74.2,
71.3,70.9,71.2,70.6,71.4,71.1,70.9,71.2,71.0,71.3,
71.0,71.2,71.4,71.1,70.9,71.3,71.0,71.2,71.1,71.4,
71.0,71.3,71.1,71.2,71.0,71.3,71.1,71.2,71.1,74.7,71.4];

// ---------------- DRAWING ----------------
const svg = d3.select('#chart');
const FONT = '"DejaVu Sans", sans-serif';
const CFONT = '"DejaVu Sans Condensed","Liberation Sans Narrow","DejaVu Sans",sans-serif';
const PX0 = 59, PX1 = 2343;
const xScale = d3.scaleLinear().domain([0, 1439]).range([PX0, PX1]);
const majorX = d3.range(0, 1440, 120);
const minorX = d3.range(30, 1440, 30).filter(m => m % 120 !== 0);
const minorY = d3.range(27, 108, 3).filter(v => v % 12 !== 0);
const pad2 = n => String(n).padStart(2, '0');

svg.append('rect').attr('width', 2400).attr('height', 1200).attr('fill', '#ffffff');

function makePanel(y0, y1, id) {
  const y = d3.scaleLinear().domain([24, 108]).range([y1, y0]);
  const g = svg.append('g');
  g.append('rect').attr('x', PX0).attr('y', y0).attr('width', PX1 - PX0).attr('height', y1 - y0).attr('fill', '#fff8dc');
  g.selectAll(null).data(minorX).join('line')
    .attr('x1', d => xScale(d)).attr('x2', d => xScale(d)).attr('y1', y0).attr('y2', y1)
    .attr('stroke', '#c8c8c8').attr('stroke-width', 1).attr('stroke-dasharray', '1.5,2');
  g.selectAll(null).data(minorY).join('line')
    .attr('x1', PX0).attr('x2', PX1).attr('y1', d => y(d)).attr('y2', d => y(d))
    .attr('stroke', '#b0b0b0').attr('stroke-width', 1).attr('stroke-dasharray', '4,2.5');
  g.selectAll(null).data(majorX.slice(1)).join('line')
    .attr('x1', d => xScale(d)).attr('x2', d => xScale(d)).attr('y1', y0).attr('y2', y1)
    .attr('stroke', '#a8a8a8').attr('stroke-width', 1.3);
  g.selectAll(null).data(yTickValues).join('line')
    .attr('x1', PX0).attr('x2', PX1).attr('y1', d => y(d)).attr('y2', d => y(d))
    .attr('stroke', '#b4b4b4').attr('stroke-width', 2);
  svg.append('clipPath').attr('id', id).append('rect')
    .attr('x', PX0).attr('y', y0).attr('width', PX1 - PX0).attr('height', y1 - y0);
  const data = svg.append('g').attr('clip-path', `url(#${id})`);
  return { y, y0, y1, data };
}

function styleAxis(g) {
  g.select('.domain').remove();
  g.selectAll('.tick line').attr('stroke', '#000').attr('stroke-width', 1);
  g.selectAll('.tick text').attr('font-family', CFONT).attr('font-size', 9).attr('fill', '#111');
}

function finishPanel(p, fmt, title, titleY) {
  const { y, y0, y1 } = p;
  svg.append('g').attr('transform', `translate(${PX0},0)`)
    .call(d3.axisLeft(y).tickValues(yTickValues).tickSize(6).tickPadding(4).tickFormat(d3.format('d'))).call(styleAxis);
  svg.append('g').attr('transform', `translate(${PX0},0)`)
    .call(d3.axisLeft(y).tickValues(minorY).tickSize(3.5).tickFormat('')).call(styleAxis);
  svg.append('g').attr('transform', `translate(${PX1},0)`)
    .call(d3.axisRight(y).tickValues(yTickValues).tickSize(6).tickPadding(4).tickFormat(d3.format('d'))).call(styleAxis);
  svg.append('g').attr('transform', `translate(${PX1},0)`)
    .call(d3.axisRight(y).tickValues(minorY).tickSize(3.5).tickFormat('')).call(styleAxis);
  svg.append('g').attr('transform', `translate(0,${y1})`)
    .call(d3.axisBottom(xScale).tickValues(majorX).tickSize(6).tickPadding(6).tickFormat(fmt)).call(styleAxis);
  svg.append('g').attr('transform', `translate(0,${y1})`)
    .call(d3.axisBottom(xScale).tickValues(minorX).tickSize(3.5).tickFormat('')).call(styleAxis);
  svg.append('rect').attr('x', PX0).attr('y', y0).attr('width', PX1 - PX0).attr('height', y1 - y0)
    .attr('fill', 'none').attr('stroke', '#000').attr('stroke-width', 1.6);
  svg.append('text').attr('x', PX0).attr('y', titleY).text(title)
    .attr('font-family', FONT).attr('font-weight', 'bold').attr('font-size', 11.6);
  svg.append('text').attr('x', (PX0 + PX1) / 2).attr('y', y1 + 36).attr('text-anchor', 'middle').text('time')
    .attr('font-family', FONT).attr('font-size', 11.7);
  const ym = (y0 + y1) / 2;
  svg.append('text').attr('transform', `translate(22,${ym}) rotate(-90)`).attr('text-anchor', 'middle').text('dB SPL')
    .attr('font-family', FONT).attr('font-size', 11.7);
  svg.append('text').attr('transform', `translate(2385,${ym}) rotate(-90)`).attr('text-anchor', 'middle').text('dB SPL')
    .attr('font-family', FONT).attr('font-size', 11.7);
}

// ---- top panel ----
const topPanel = makePanel(84, 588, 'clipTop');
const segs = [];
segs.push(seg0Z.map((v, i) => ({ t: i * 2, z: v, c: seg0C[i], a: seg0A[i], pz: seg0PZ[i], pc: seg0PC[i], pa: seg0PA[i] })));
burstMinutes.forEach((t, k) => {
  if (!burstZ[k]) return;
  segs.push([0, 1].map(j => ({ t: t + j, z: burstZ[k][j], c: burstC[k][j], a: burstA[k][j],
    pz: burstPZ[k] ? burstPZ[k][j] : null, pc: burstPC[k] ? burstPC[k][j] : null, pa: burstPA[k] ? burstPA[k][j] : null })));
});
tailMinutes.forEach((t, i) => segs[segs.length - 1].push({ t, z: tailZ[i], c: tailC[i], a: tailA[i], pz: tailPZ[i], pc: tailPC[i], pa: tailPA[i] }));
const allPts = segs.flat();
const peakSeries = [['pz', '#1e90ff'], ['pc', '#ff00ff'], ['pa', '#2e8b57']];
peakSeries.forEach(([key, col]) => {
  topPanel.data.append('g').selectAll('circle').data(allPts.filter(d => d[key] != null)).join('circle')
    .attr('cx', d => xScale(d.t)).attr('cy', d => topPanel.y(d[key])).attr('r', 1.7)
    .attr('fill', col).attr('fill-opacity', 0.85);
});
const avgSeries = [['z', '#4682b4'], ['c', '#da70d6'], ['a', '#9acd32']];
avgSeries.forEach(([key, col]) => {
  const line = d3.line().defined(d => d[key] != null).x(d => xScale(d.t)).y(d => topPanel.y(d[key]));
  topPanel.data.append('g').selectAll('path').data(segs).join('path')
    .attr('d', line).attr('fill', 'none').attr('stroke', col).attr('stroke-width', 1.8)
    .attr('stroke-linejoin', 'round').attr('stroke-opacity', 0.9);
});
finishPanel(topPanel, m => pad2(Math.floor(m / 60)) + ':00', topTitle, 74.5);

// top legend
const lg = svg.append('g');
lg.append('rect').attr('x', 2156).attr('y', 543).attr('width', 182).attr('height', 40).attr('rx', 3)
  .attr('fill', '#fff8dc').attr('fill-opacity', 0.85).attr('stroke', '#dccb9f').attr('stroke-width', 1);
const rows = [551, 562.5, 574];
peakSeries.forEach(([k, col], i) => {
  lg.append('circle').attr('cx', 2169).attr('cy', rows[i]).attr('r', 2.2).attr('fill', col);
  lg.append('text').attr('x', 2186.5).attr('y', rows[i] + 3.5).text(topLegendLabels[i])
    .attr('font-family', FONT).attr('font-size', 9.5);
});
avgSeries.forEach(([k, col], i) => {
  lg.append('line').attr('x1', 2257.5).attr('x2', 2280).attr('y1', rows[i]).attr('y2', rows[i])
    .attr('stroke', col).attr('stroke-width', 4);
  lg.append('text').attr('x', 2286).attr('y', rows[i] + 3.5).text(topLegendLabels[3 + i])
    .attr('font-family', FONT).attr('font-size', 9.5);
});

// ---- bottom panel ----
const botPanel = makePanel(644, 1148, 'clipBot');
const bandT = envHi.map((_, i) => i * 10);
const hiAt = d3.scaleLinear().domain(bandT).range(envHi).clamp(true);
const loAt = d3.scaleLinear().domain(bandT).range(envLo).clamp(true);
const env = bandT.map((t, i) => ({ t, lo: envLo[i], hi: envHi[i] }));
const spikes = envSpikesEarly.map(([t, v]) => ({ t, v }))
  .concat(burstMinutes.map((t, k) => ({ t: t + 0.5, v: envSpikeBurst[k] })).filter(d => d.v != null));
spikes.forEach(s => {
  [[s.t - 0.9, null], [s.t, s.v], [s.t + 0.9, null]].forEach(([t, v]) => {
    env.push({ t, lo: loAt(t), hi: v == null ? hiAt(t) : Math.max(v, hiAt(t)) });
  });
});
env.sort((a, b) => a.t - b.t);
botPanel.data.append('path').datum(env)
  .attr('d', d3.area().x(d => xScale(d.t)).y0(d => botPanel.y(d.lo)).y1(d => botPanel.y(d.hi)))
  .attr('fill', '#dc143c').attr('fill-opacity', 0.25);
const botSeries = [[botZ, '#dc143c'], [botC, '#ff8c00'], [botA, '#ffd700']];
botSeries.forEach(([arr, col]) => {
  botPanel.data.append('path').datum(arr.map((v, i) => ({ t: i * 5, v })))
    .attr('d', d3.line().x(d => xScale(d.t)).y(d => botPanel.y(d.v)))
    .attr('fill', 'none').attr('stroke', col).attr('stroke-width', 2).attr('stroke-linejoin', 'round');
});
finishPanel(botPanel, m => pad2(Math.floor(m / 60)) + ':00:00', botTitle, 634.5);

// bottom legend
const lg2 = svg.append('g');
lg2.append('rect').attr('x', 2277).attr('y', 1103).attr('width', 61).attr('height', 41).attr('rx', 3)
  .attr('fill', '#fff8dc').attr('fill-opacity', 0.85).attr('stroke', '#dccb9f').attr('stroke-width', 1);
const rows2 = [1111.5, 1123.3, 1135];
botSeries.forEach(([arr, col], i) => {
  lg2.append('line').attr('x1', 2279.5).attr('x2', 2301).attr('y1', rows2[i]).attr('y2', rows2[i])
    .attr('stroke', col).attr('stroke-width', 3.4);
  lg2.append('text').attr('x', 2308).attr('y', rows2[i] + 3.5).text(botLegendLabels[i])
    .attr('font-family', FONT).attr('font-size', 9.5);
});

// ---- figure title ----
titleLines.forEach((s, i) => {
  svg.append('text').attr('x', 24).attr('y', 24 + i * 14).text(s)
    .attr('font-family', FONT).attr('font-weight', 'bold').attr('font-size', 13.8);
});
</script>
</body></html>
